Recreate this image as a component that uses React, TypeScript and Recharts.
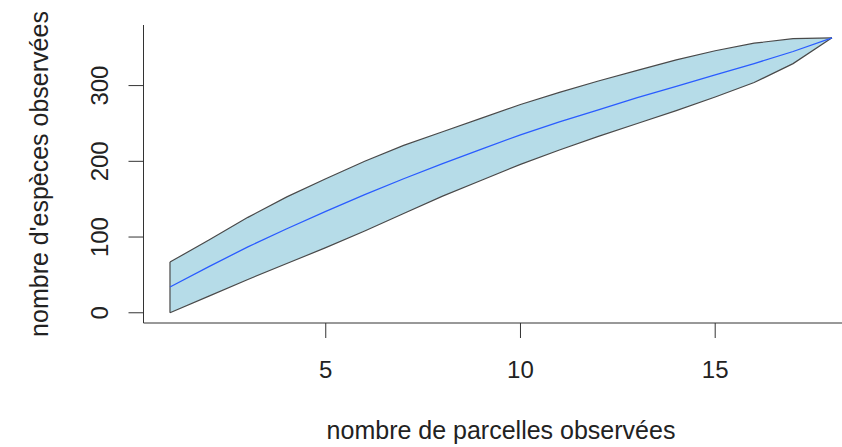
import React from "react";
import {
  ComposedChart,
  Area,
  Line,
  XAxis,
  YAxis,
  ReferenceLine,
} from "recharts";

const sites = [1, 2, 3, 4, 5, 6, 7, 8, 9, 10, 11, 12, 13, 14, 15, 16, 17, 18];
const richness = [34, 61, 87, 111, 134, 156, 177, 197, 216, 235, 252, 268, 284, 299, 314, 329, 345, 363];
const lowerCI = [0, 22, 44, 65, 86, 108, 131, 154, 175, 196, 215, 233, 250, 267, 285, 304, 329, 363];
const upperCI = [67, 96, 126, 153, 177, 200, 221, 239, 257, 275, 291, 306, 320, 334, 346, 356, 362, 363];

const xTicks = [5, 10, 15];
const yTicks = [0, 100, 200, 300];

const xTitle = "nombre de parcelles observées";
const yTitle = "nombre d'espèces observées";

const data = sites.map((s, i) => ({
  x: s,
  mean: richness[i],
  band: [lowerCI[i], upperCI[i]],
}));

const FONT = "'Liberation Sans', Arial, Helvetica, sans-serif";
const TEXT = "#222";
const AXIS = "#333";

const XTick = (props: any) => {
  const { x, y, payload } = props;
  return (
    <text
      x={x}
      y={y + 29}
      textAnchor="middle"
      dominantBaseline="central"
      fontFamily={FONT}
      fontSize={24}
      fill={TEXT}
    >
      {payload.value}
    </text>
  );
};

const YTick = (props: any) => {
  const { x, y, payload } = props;
  const cx = x - 27;
  return (
    <text
      x={cx}
      y={y}
      transform={`rotate(-90 ${cx} ${y})`}
      textAnchor="middle"
      dominantBaseline="central"
      fontFamily={FONT}
      fontSize={24}
      fill={TEXT}
    >
      {payload.value}
    </text>
  );
};

export default function App() {
  return (
    <div
      style={{
        position: "absolute",
        left: 0,
        top: 0,
        width: 842,
        height: 447,
        overflow: "hidden",
        background: "#fff",
      }}
    >
      <ComposedChart
        width={880}
        height={447}
        data={data}
        margin={{ top: 25, right: 21.5, bottom: 0, left: 0 }}
      >
        <XAxis
          dataKey="x"
          type="number"
          domain={[0.32, 18.68]}
          ticks={xTicks}
          allowDataOverflow
          height={124}
          tickSize={15}
          tickLine={{ stroke: AXIS }}
          axisLine={{ stroke: AXIS }}
          tick={<XTick />}
          label={{
            value: xTitle,
            position: "insideBottom",
            offset: 8,
            fontFamily: FONT,
            fontSize: 25,
            fill: TEXT,
          }}
        />
        <XAxis
          xAxisId="top"
          dataKey="x"
          type="number"
          orientation="top"
          domain={[0.32, 18.68]}
          height={0}
          tick={false}
          tickLine={false}
          axisLine={{ stroke: AXIS }}
        />
        <YAxis
          type="number"
          domain={[-13.5, 380]}
          ticks={yTicks}
          allowDataOverflow
          width={143.5}
          tickSize={15}
          tickLine={{ stroke: AXIS }}
          axisLine={{ stroke: AXIS }}
          tick={<YTick />}
          label={{
            value: yTitle,
            angle: -90,
            position: "insideLeft",
            offset: 39,
            style: { textAnchor: "middle" },
            fontFamily: FONT,
            fontSize: 25,
            fill: TEXT,
          }}
        />
        <Area
          dataKey="band"
          type="linear"
          fill="#b6dce8"
          fillOpacity={1}
          stroke="#4a4a4a"
          strokeWidth={1.2}
          isAnimationActive={false}
          dot={false}
          activeDot={false}
        />
        <ReferenceLine
          segment={[
            { x: sites[0], y: lowerCI[0] },
            { x: sites[0], y: upperCI[0] },
          ]}
          stroke="#4a4a4a"
          strokeWidth={1.2}
          ifOverflow="visible"
        />
        <Line
          dataKey="mean"
          type="linear"
          stroke="#2a5cff"
          strokeWidth={1.3}
          dot={false}
          activeDot={false}
          isAnimationActive={false}
        />
      </ComposedChart>
    </div>
  );
}
